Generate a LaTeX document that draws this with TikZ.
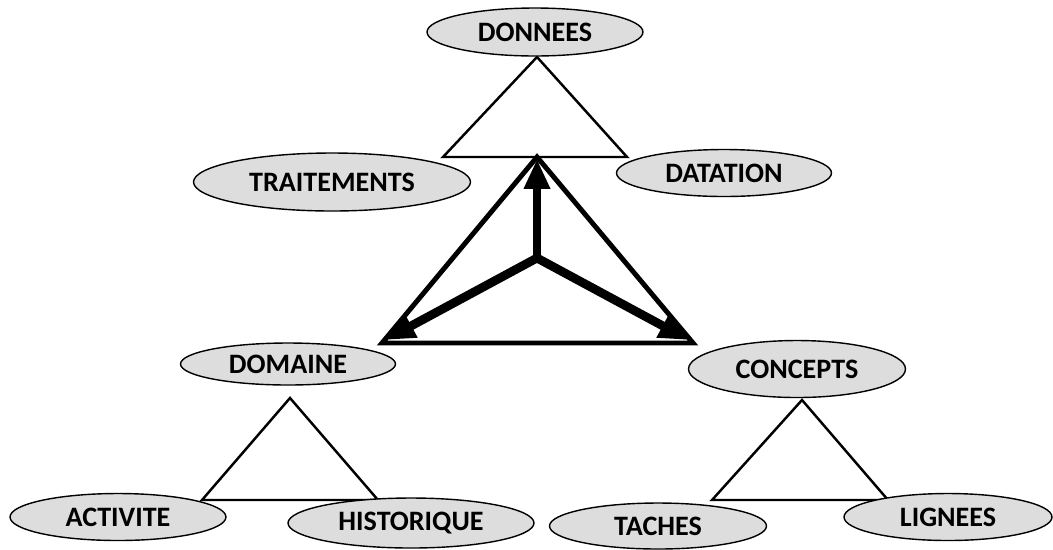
\documentclass[tikz,border=0pt]{standalone}
\usepackage{fontspec}
\setmainfont{Carlito}
\usetikzlibrary{arrows.meta,shapes.geometric,positioning}

\tikzset{
  concept/.style={ellipse,draw=black,line width=0.8pt,fill=gray!27,inner sep=0pt,
    font=\fontsize{16}{19}\selectfont\bfseries},
  thin tri/.style={line width=1.4pt,line join=miter},
  thick tri/.style={line width=2.8pt,line join=miter},
  fat arrow/.style={line width=5pt,-{Triangle[width=14pt,length=17pt]}}
}

\begin{document}
\begin{tikzpicture}[x=0.02cm,y=-0.02cm]

\useasboundingbox (0,0) rectangle (1053,549);

% corners of the triangles
\coordinate (d1) at (537,57);
\coordinate (d2) at (443,157);
\coordinate (d3) at (627,157);

\coordinate (m1) at (537,157);
\coordinate (m2) at (382,343);
\coordinate (m3) at (693,343);

\coordinate (a1) at (290,398);
\coordinate (a2) at (202,500);
\coordinate (a3) at (378,500);

\coordinate (c1) at (802,400);
\coordinate (c2) at (712,500);
\coordinate (c3) at (888,500);

% arrow ends
\coordinate (hub) at (537,258);
\coordinate (up) at (537,159);
\coordinate (left) at (385,340);
\coordinate (right) at (689,340);

\draw [thin tri] (d1) -- (d2) -- (d3) -- cycle;

\draw [thick tri] (m1) -- (m2) -- (m3) -- cycle;

\draw [thin tri] (a1) -- (a2) -- (a3) -- cycle;

\draw [thin tri] (c1) -- (c2) -- (c3) -- cycle;

\draw [fat arrow] (hub) -- (up);

\draw [fat arrow] (hub) -- (left);

\draw [fat arrow] (hub) -- (right);

% ellipses
\node [concept,minimum width=4.32cm,minimum height=0.96cm] (donnees) at (535,32) {DONNEES};

\node [concept,minimum width=5.54cm,minimum height=1.16cm] (traitements) at (332,182) {TRAITEMENTS};

\node [concept,minimum width=4.3cm,minimum height=0.94cm] (datation) at (724,173) {DATATION};

\node [concept,minimum width=4.3cm,minimum height=0.84cm] (domaine) at (288,364) {DOMAINE};

\node [concept,minimum width=4.34cm,minimum height=1.14cm] (concepts) at (797,369) {CONCEPTS};

\node [concept,minimum width=4.32cm,minimum height=0.94cm] (activite) at (118,517) {ACTIVITE};

\node [concept,minimum width=4.92cm,minimum height=1.0cm] (historique) at (411,523) {HISTORIQUE};

\node [concept,minimum width=4.34cm,minimum height=0.92cm] (taches) at (658,526) {TACHES};

\node [concept,minimum width=4.16cm,minimum height=0.94cm] (lignees) at (948,517) {LIGNEES};

\end{tikzpicture}
\end{document}
